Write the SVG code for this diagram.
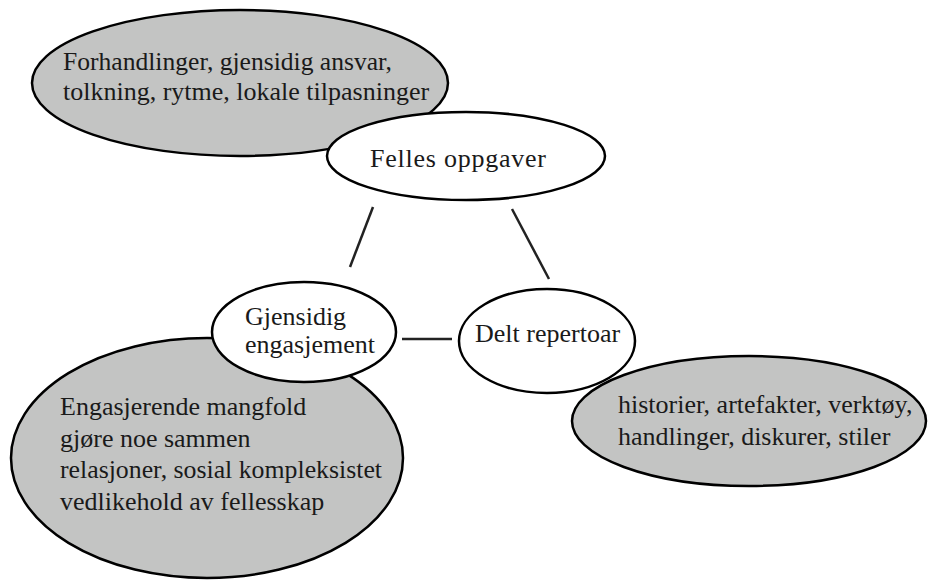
<svg xmlns="http://www.w3.org/2000/svg" width="928" height="581" viewBox="0 0 928 581">
<style>
.g{fill:#c3c4c3;stroke:#000;stroke-width:2.5}
.w{fill:#fff;stroke:#000;stroke-width:2.5}
text{font-family:"Liberation Serif","Times New Roman",serif;font-size:26px;fill:#1a1a1a}
.c{stroke:#222;stroke-width:2.5;fill:none}
</style>
<rect width="928" height="581" fill="#fff"/>
<g id="note-top"><ellipse class="g" cx="240" cy="83" rx="208" ry="73"/>
<text x="63" y="70" textLength="329" lengthAdjust="spacingAndGlyphs">Forhandlinger, gjensidig ansvar,</text>
<text x="63" y="100">tolkning, rytme, lokale tilpasninger</text></g>
<g id="note-left"><ellipse class="g" cx="207" cy="458" rx="196" ry="120"/>
<text x="60" y="415">Engasjerende mangfold</text>
<text x="60" y="447">gjøre noe sammen</text>
<text x="60" y="478" textLength="322" lengthAdjust="spacingAndGlyphs">relasjoner, sosial kompleksistet</text>
<text x="60" y="510">vedlikehold av fellesskap</text></g>
<g id="note-right"><ellipse class="g" cx="749" cy="421" rx="177" ry="65"/>
<text x="618" y="413">historier, artefakter, verktøy,</text>
<text x="618" y="445">handlinger, diskurer, stiler</text></g>
<g id="felles"><ellipse class="w" cx="466" cy="156" rx="139" ry="44"/>
<text x="370" y="167" textLength="176">Felles oppgaver</text></g>
<g id="gjensidig"><ellipse class="w" cx="304" cy="332" rx="92" ry="50"/>
<text x="245" y="325">Gjensidig</text>
<text x="245" y="353">engasjement</text></g>
<g id="delt"><ellipse class="w" cx="547" cy="341" rx="88" ry="52"/>
<text x="475" y="342">Delt repertoar</text></g>
<g id="connectors">
<line class="c" x1="373" y1="207" x2="350" y2="267"/>
<line class="c" x1="512" y1="209" x2="549" y2="279"/>
<line class="c" x1="402" y1="339" x2="452" y2="339"/>
</g>
</svg>
